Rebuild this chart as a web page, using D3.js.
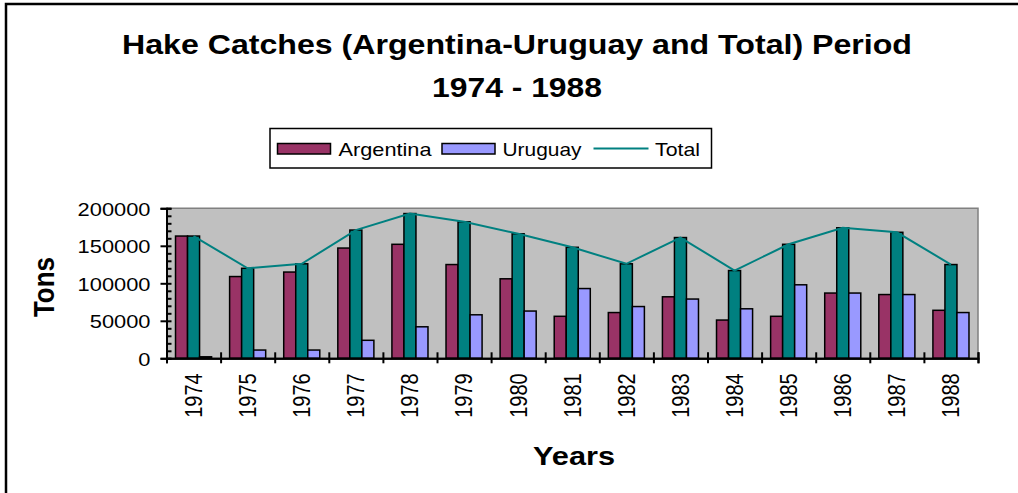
<!DOCTYPE html>
<html>
<head>
<meta charset="utf-8">
<script src="https://cdn.jsdelivr.net/npm/d3@7"></script>
<style>
  body { margin: 0; background: #fff; overflow: hidden; }
  svg { display: block; overflow: hidden; }
  text { font-family: "Liberation Sans", Arial, sans-serif; fill: #000; }
</style>
</head>
<body>
<svg id="chart" width="1018" height="493"></svg>
<script>
// data
const years = ["1974","1975","1976","1977","1978","1979","1980","1981","1982","1983","1984","1985","1986","1987","1988"];
const argentina = [163000,109000,115000,147000,152000,125000,106000,56000,61000,82000,51000,56000,87000,85000,64000];
const uruguay = [2000,11000,11000,24000,42000,58000,63000,93000,69000,79000,66000,98000,87000,85000,61000];
const total = [163000,120000,126000,171000,193000,182000,166000,148000,126000,161000,117000,152000,174000,168000,125000];
const yTicks = [0,50000,100000,150000,200000];

const barSeries = [
  {name: "Argentina", values: argentina, color: "#993366"},
  {name: "Total", values: total, color: "#008080"},
  {name: "Uruguay", values: uruguay, color: "#9999FF"}
];

const stretch = 1.15; // the picture is a bit wider than tall

const svg = d3.select("#chart");

// outer chart frame (runs off right / bottom)
svg.append("rect")
  .attr("x", 6).attr("y", 4)
  .attr("width", 1100).attr("height", 600)
  .attr("fill", "white").attr("stroke", "black").attr("stroke-width", 2.5);

// title
const title = svg.append("g").attr("transform", "translate(517,0)");
title.append("text")
  .attr("y", 53.5).attr("text-anchor", "middle")
  .style("font-size", "28px").style("font-weight", "bold")
  .attr("textLength", 790).attr("lengthAdjust", "spacingAndGlyphs")
  .text("Hake Catches (Argentina-Uruguay and Total) Period");
title.append("text")
  .attr("y", 97).attr("text-anchor", "middle")
  .style("font-size", "28px").style("font-weight", "bold")
  .attr("textLength", 170).attr("lengthAdjust", "spacingAndGlyphs")
  .text("1974 - 1988");

// plot area
const plotL = 166.5, plotR = 978, plotT = 208.3, plotB = 358.3;

const x = d3.scaleBand().domain(years).range([plotL, plotR])
  .paddingInner(1/3).paddingOuter(1/6);
const xSub = d3.scaleBand().domain(barSeries.map(s => s.name)).range([0, x.bandwidth()]);
const xEdge = d3.scaleLinear().domain([0, years.length]).range([plotL, plotR]);
const y = d3.scaleLinear().domain([0, 200000]).range([plotB, plotT]);

svg.append("rect")
  .attr("x", plotL).attr("y", plotT)
  .attr("width", plotR - plotL).attr("height", plotB - plotT)
  .attr("fill", "#C0C0C0");
svg.append("path")
  .attr("d", `M${plotL},${plotT}H${plotR}V${plotB}`)
  .attr("fill", "none").attr("stroke", "#808080").attr("stroke-width", 1.5);

// bars
const groups = svg.append("g").selectAll("g")
  .data(barSeries)
  .enter()
  .append("g")
  .attr("fill", d => d.color);

groups.selectAll("rect")
  .data(s => s.values.map((v, i) => ({name: s.name, year: years[i], value: v})))
  .enter()
  .append("rect")
  .attr("x", d => x(d.year) + xSub(d.name))
  .attr("y", d => y(d.value))
  .attr("width", xSub.bandwidth())
  .attr("height", d => plotB - y(d.value))
  .attr("stroke", "black")
  .attr("stroke-width", 1.5);

// total line
const line = d3.line()
  .x((d, i) => x(years[i]) + x.bandwidth() / 2)
  .y(d => y(d));
svg.append("path")
  .datum(total)
  .attr("d", line)
  .attr("fill", "none")
  .attr("stroke", "#008080")
  .attr("stroke-width", 2);

// y axis
const yAxis = svg.append("g")
  .attr("transform", `translate(${plotL},0)`)
  .call(d3.axisLeft(y).tickValues(yTicks).tickSize(6).tickPadding(10).tickFormat(d3.format("d")));
svg.append("g")
  .attr("transform", `translate(${plotL},0)`)
  .call(d3.axisRight(y).tickValues(d3.range(0, 200001, 10000)).tickSize(5).tickFormat(""));

yAxis.selectAll("text")
  .style("font-size", "19px")
  .attr("x", -16 / stretch)
  .attr("dy", "0.36em")
  .attr("transform", `scale(${stretch},1)`);

// x axis
svg.append("g")
  .attr("transform", `translate(0,${plotB})`)
  .call(d3.axisBottom(xEdge).ticks(years.length).tickSize(5).tickFormat(""));
svg.append("g")
  .attr("transform", `translate(0,${plotB})`)
  .call(d3.axisTop(xEdge).ticks(years.length).tickSize(6).tickFormat(""));

const xAxis = svg.append("g")
  .attr("transform", `translate(0,${plotB})`)
  .call(d3.axisBottom(x).tickSize(0).tickPadding(0));
xAxis.select(".domain").remove();
xAxis.selectAll("text")
  .style("font-size", "20px")
  .attr("text-anchor", "end")
  .attr("y", 0).attr("dy", "0.35em")
  .attr("transform", `translate(0,15) scale(1.2,1) rotate(-90)`);

svg.selectAll(".domain, .tick line")
  .attr("stroke", "black").attr("stroke-width", 2);

// axis titles
svg.append("text")
  .attr("transform", `translate(54,287) scale(${stretch},1) rotate(-90)`)
  .attr("text-anchor", "middle")
  .style("font-size", "26px").style("font-weight", "bold")
  .text("Tons");
svg.append("text")
  .attr("x", 574).attr("y", 465)
  .attr("text-anchor", "middle")
  .style("font-size", "26px").style("font-weight", "bold")
  .attr("textLength", 82).attr("lengthAdjust", "spacingAndGlyphs")
  .text("Years");

// legend
const legend = svg.append("g");
legend.append("rect")
  .attr("x", 270).attr("y", 128.5)
  .attr("width", 441.5).attr("height", 39.5)
  .attr("fill", "white").attr("stroke", "black").attr("stroke-width", 1.5);

const legendItems = [
  {name: "Argentina", color: "#993366", type: "bar", sx: 277.5, tx: 338.5, tw: 93},
  {name: "Uruguay", color: "#9999FF", type: "bar", sx: 442, tx: 502.5, tw: 79},
  {name: "Total", color: "#008080", type: "line", sx: 593.5, tx: 655, tw: 45}
];

legendItems.forEach(d => {
  if (d.type === "bar") {
    legend.append("rect")
      .attr("x", d.sx).attr("y", 143.5)
      .attr("width", 53).attr("height", 10.5)
      .attr("fill", d.color).attr("stroke", "black").attr("stroke-width", 1.5);
  } else {
    legend.append("line")
      .attr("x1", d.sx).attr("x2", d.sx + 55)
      .attr("y1", 148.5).attr("y2", 148.5)
      .attr("stroke", d.color).attr("stroke-width", 2);
  }
  legend.append("text")
    .attr("x", d.tx).attr("y", 155.5)
    .style("font-size", "19px")
    .attr("textLength", d.tw).attr("lengthAdjust", "spacingAndGlyphs")
    .text(d.name);
});
</script>
</body>
</html>
